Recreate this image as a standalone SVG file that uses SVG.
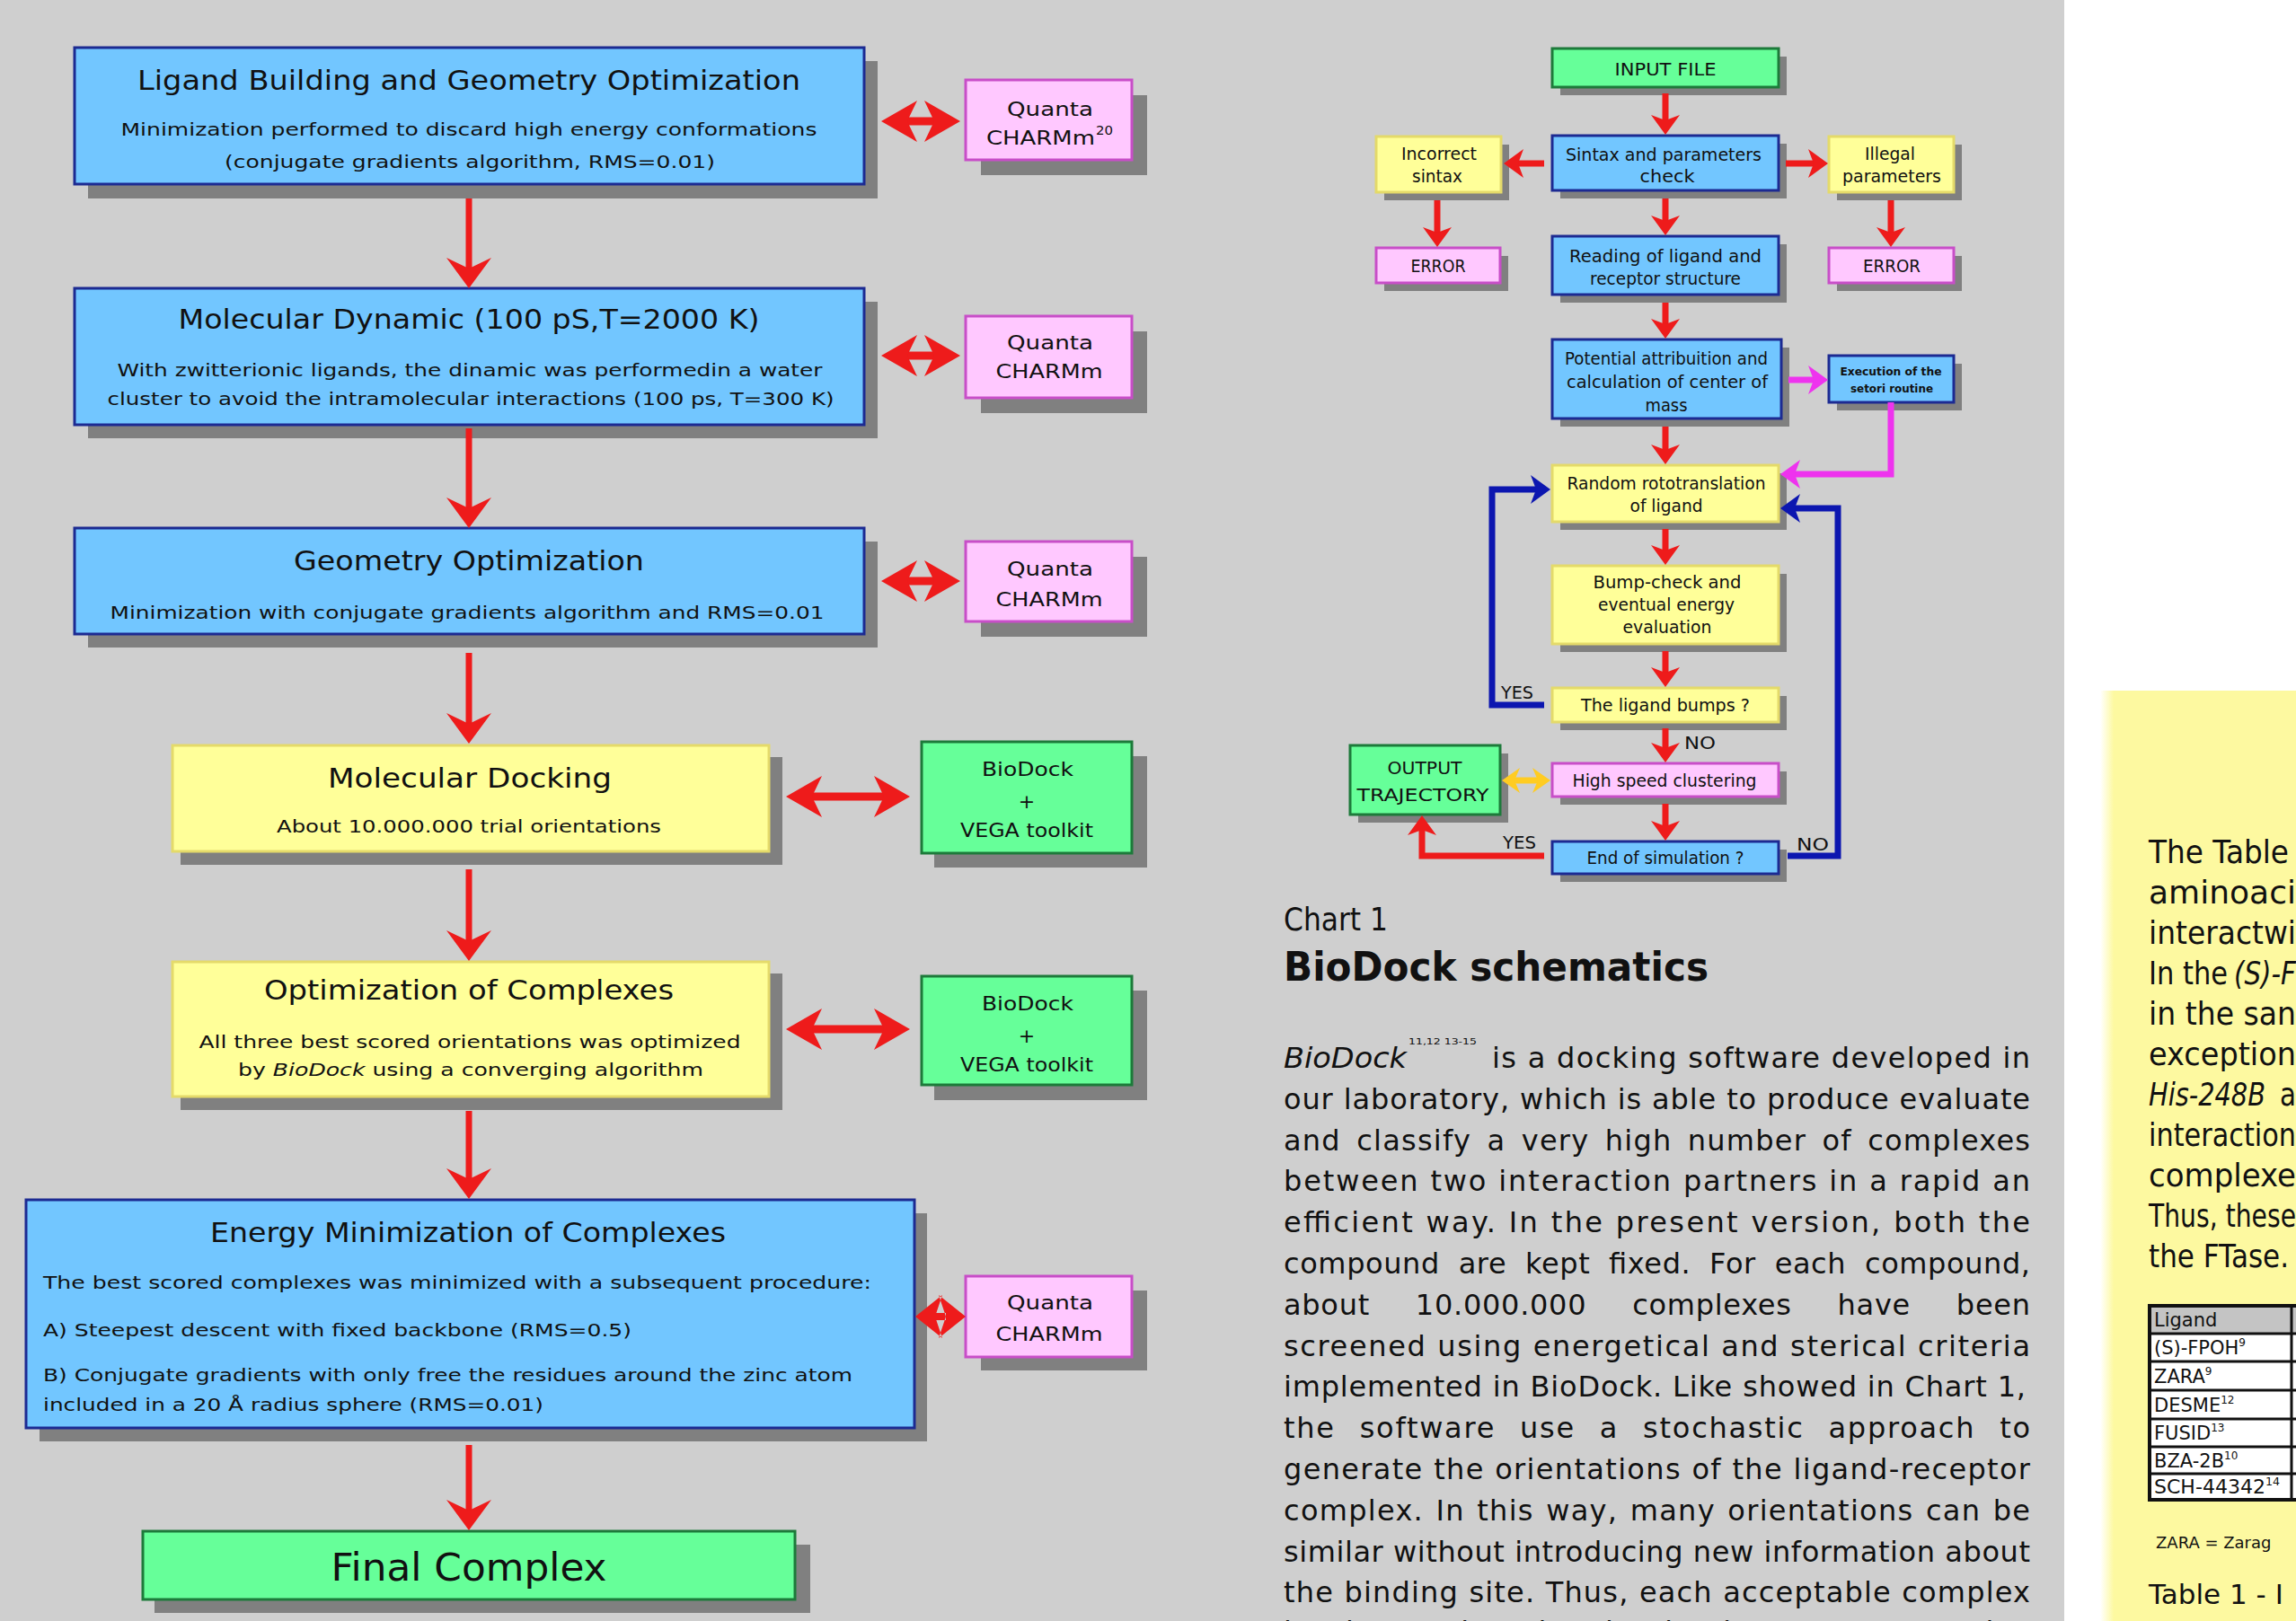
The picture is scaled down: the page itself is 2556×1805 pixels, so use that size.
<svg xmlns="http://www.w3.org/2000/svg" width="2556" height="1805" viewBox="0 0 2556 1805">
<style>
.t{font-family:"DejaVu Sans","Liberation Sans",sans-serif;fill:#111}
.ti{font-size:31px}
.bd{font-size:20px}
.q{font-size:22px}
.s{font-size:20px}
.par{font-size:32px}
.yp{font-size:35px}
.tb{font-size:21px}
.sh{fill:#808080}
.blue{fill:#72c6ff;stroke:#1c2a92;stroke-width:3}
.pink{fill:#ffc8ff;stroke:#c84ec8;stroke-width:3}
.yel{fill:#ffff99;stroke:#e4da6a;stroke-width:3}
.grn{fill:#66ff99;stroke:#1d7a3a;stroke-width:3}
.red{fill:none;stroke:#ee1b1b}
.blu{fill:none;stroke:#0c16b0;stroke-width:7}
.mag{fill:none;stroke:#ee33ee;stroke-width:7}
</style>
<defs>
<marker id="rBig" markerUnits="userSpaceOnUse" orient="auto" overflow="visible" markerWidth="1" markerHeight="1"><path d="M-12,-25 L22,0 L-12,25 L0,0 Z" fill="#ee1b1b"/></marker>
<marker id="rDbl" markerUnits="userSpaceOnUse" orient="auto-start-reverse" overflow="visible" markerWidth="1" markerHeight="1"><path d="M-14,-23 L26,0 L-14,23 L-3,0 Z" fill="#ee1b1b"/></marker>
<marker id="rSm" markerUnits="userSpaceOnUse" orient="auto" overflow="visible" markerWidth="1" markerHeight="1"><path d="M-6,-16 L16,0 L-6,16 L0,0 Z" fill="#ee1b1b"/></marker>
<marker id="bSm" markerUnits="userSpaceOnUse" orient="auto" overflow="visible" markerWidth="1" markerHeight="1"><path d="M-6,-16 L16,0 L-6,16 L0,0 Z" fill="#0c16b0"/></marker>
<marker id="mSm" markerUnits="userSpaceOnUse" orient="auto" overflow="visible" markerWidth="1" markerHeight="1"><path d="M-6,-16 L16,0 L-6,16 L0,0 Z" fill="#ee33ee"/></marker>
<marker id="oSm" markerUnits="userSpaceOnUse" orient="auto-start-reverse" overflow="visible" markerWidth="1" markerHeight="1"><path d="M-6,-14 L14,0 L-6,14 L0,0 Z" fill="#ffcc22"/></marker>
<linearGradient id="yg" x1="0" y1="0" x2="1" y2="0">
<stop offset="0" stop-color="#ffffff"/><stop offset="0.07" stop-color="#fdf9a0"/><stop offset="1" stop-color="#fdf9a0"/>
</linearGradient>
</defs>

<rect x="0" y="0" width="2556" height="1805" fill="#ffffff"/>
<rect x="0" y="0" width="2298" height="1805" fill="#cfcfcf"/>
<rect x="2338" y="769" width="218" height="1036" fill="url(#yg)"/>

<!-- Left column nodes -->
<g id="n-ligand-building">
<rect class="sh" x="98" y="68" width="879" height="153"/>
<rect class="blue" x="83" y="53" width="879" height="152"/>
<text class="t ti" x="522" y="100" text-anchor="middle" textLength="738" lengthAdjust="spacingAndGlyphs">Ligand Building and Geometry Optimization</text>
<text class="t bd" x="522" y="151" text-anchor="middle" textLength="775" lengthAdjust="spacingAndGlyphs">Minimization performed to discard high energy conformations</text>
<text class="t bd" x="523" y="187" text-anchor="middle" textLength="546" lengthAdjust="spacingAndGlyphs">(conjugate gradients algorithm, RMS=0.01)</text>
</g>
<g id="n-quanta1">
<rect class="sh" x="1092" y="106" width="185" height="89"/>
<rect class="pink" x="1075" y="89" width="185" height="89"/>
<text class="t q" x="1169" y="129" text-anchor="middle" textLength="96" lengthAdjust="spacingAndGlyphs">Quanta</text>
<text class="t q" x="1098" y="161" textLength="121" lengthAdjust="spacingAndGlyphs">CHARMm</text>
<text class="t" x="1220" y="150" font-size="14" textLength="19" lengthAdjust="spacingAndGlyphs">20</text>
</g>

<g id="n-moldyn">
<rect class="sh" x="98" y="336" width="879" height="152"/>
<rect class="blue" x="83" y="321" width="879" height="152"/>
<text class="t ti" x="522" y="366" text-anchor="middle" textLength="647" lengthAdjust="spacingAndGlyphs">Molecular Dynamic (100 pS,T=2000 K)</text>
<text class="t bd" x="523" y="419" text-anchor="middle" textLength="785" lengthAdjust="spacingAndGlyphs">With zwitterionic ligands, the dinamic was performedin a water</text>
<text class="t bd" x="524" y="451" text-anchor="middle" textLength="809" lengthAdjust="spacingAndGlyphs">cluster to avoid the intramolecular interactions (100 ps, T=300 K)</text>
</g>
<g id="n-quanta2">
<rect class="sh" x="1092" y="369" width="185" height="91"/>
<rect class="pink" x="1075" y="352" width="185" height="91"/>
<text class="t q" x="1169" y="389" text-anchor="middle" textLength="96" lengthAdjust="spacingAndGlyphs">Quanta</text>
<text class="t q" x="1168" y="421" text-anchor="middle" textLength="119" lengthAdjust="spacingAndGlyphs">CHARMm</text>
</g>

<g id="n-geomopt">
<rect class="sh" x="98" y="603" width="879" height="118"/>
<rect class="blue" x="83" y="588" width="879" height="118"/>
<text class="t ti" x="522" y="635" text-anchor="middle" textLength="390" lengthAdjust="spacingAndGlyphs">Geometry Optimization</text>
<text class="t bd" x="520" y="689" text-anchor="middle" textLength="795" lengthAdjust="spacingAndGlyphs">Minimization with conjugate gradients algorithm and RMS=0.01</text>
</g>
<g id="n-quanta3">
<rect class="sh" x="1092" y="620" width="185" height="89"/>
<rect class="pink" x="1075" y="603" width="185" height="89"/>
<text class="t q" x="1169" y="641" text-anchor="middle" textLength="96" lengthAdjust="spacingAndGlyphs">Quanta</text>
<text class="t q" x="1168" y="675" text-anchor="middle" textLength="119" lengthAdjust="spacingAndGlyphs">CHARMm</text>
</g>

<g id="n-moldock">
<rect class="sh" x="201" y="843" width="670" height="120"/>
<rect class="yel" x="192" y="830" width="664" height="118"/>
<text class="t ti" x="523" y="877" text-anchor="middle" textLength="316" lengthAdjust="spacingAndGlyphs">Molecular Docking</text>
<text class="t bd" x="522" y="927" text-anchor="middle" textLength="428" lengthAdjust="spacingAndGlyphs">About 10.000.000 trial orientations</text>
</g>
<g id="n-biodock1">
<rect class="sh" x="1040" y="842" width="237" height="124"/>
<rect class="grn" x="1026" y="826" width="234" height="124"/>
<text class="t q" x="1144" y="864" text-anchor="middle" textLength="102" lengthAdjust="spacingAndGlyphs">BioDock</text>
<text class="t q" x="1143" y="900" text-anchor="middle">+</text>
<text class="t q" x="1143" y="932" text-anchor="middle" textLength="148" lengthAdjust="spacingAndGlyphs">VEGA toolkit</text>
</g>

<g id="n-optcomplex">
<rect class="sh" x="201" y="1084" width="670" height="152"/>
<rect class="yel" x="192" y="1071" width="664" height="150"/>
<text class="t ti" x="522" y="1113" text-anchor="middle" textLength="456" lengthAdjust="spacingAndGlyphs">Optimization of Complexes</text>
<text class="t bd" x="523" y="1167" text-anchor="middle" textLength="603" lengthAdjust="spacingAndGlyphs">All three best scored orientations was optimized</text>
<text class="t bd" x="524" y="1198" text-anchor="middle" textLength="518" lengthAdjust="spacingAndGlyphs">by <tspan font-style="italic">BioDock</tspan> using a converging algorithm</text>
</g>
<g id="n-biodock2">
<rect class="sh" x="1040" y="1103" width="237" height="122"/>
<rect class="grn" x="1026" y="1087" width="234" height="121"/>
<text class="t q" x="1144" y="1125" text-anchor="middle" textLength="102" lengthAdjust="spacingAndGlyphs">BioDock</text>
<text class="t q" x="1143" y="1161" text-anchor="middle">+</text>
<text class="t q" x="1143" y="1193" text-anchor="middle" textLength="148" lengthAdjust="spacingAndGlyphs">VEGA toolkit</text>
</g>

<g id="n-energymin">
<rect class="sh" x="44" y="1351" width="988" height="254"/>
<rect class="blue" x="29" y="1336" width="989" height="254"/>
<text class="t ti" x="521" y="1383" text-anchor="middle" textLength="574" lengthAdjust="spacingAndGlyphs">Energy Minimization of Complexes</text>
<text class="t bd" x="48" y="1435" textLength="922" lengthAdjust="spacingAndGlyphs">The best scored complexes was minimized with a subsequent procedure:</text>
<text class="t bd" x="48" y="1488" textLength="655" lengthAdjust="spacingAndGlyphs">A) Steepest descent with fixed backbone (RMS=0.5)</text>
<text class="t bd" x="48" y="1538" textLength="901" lengthAdjust="spacingAndGlyphs">B) Conjugate gradients with only free the residues around the zinc atom</text>
<text class="t bd" x="48" y="1571" textLength="557" lengthAdjust="spacingAndGlyphs">included in a 20 Å radius sphere (RMS=0.01)</text>
</g>
<g id="n-quanta4">
<rect class="sh" x="1092" y="1437" width="185" height="89"/>
<rect class="pink" x="1075" y="1421" width="185" height="90"/>
<text class="t q" x="1169" y="1458" text-anchor="middle" textLength="96" lengthAdjust="spacingAndGlyphs">Quanta</text>
<text class="t q" x="1168" y="1493" text-anchor="middle" textLength="119" lengthAdjust="spacingAndGlyphs">CHARMm</text>
</g>

<g id="n-final">
<rect class="sh" x="172" y="1720" width="730" height="76"/>
<rect class="grn" x="159" y="1705" width="726" height="76"/>
<text class="t" x="522" y="1760" font-size="43" text-anchor="middle" textLength="307" lengthAdjust="spacingAndGlyphs">Final Complex</text>
</g>

<!-- Right flowchart nodes -->
<g id="c-input">
<rect class="sh" x="1737" y="63" width="252" height="43"/>
<rect class="grn" x="1728" y="54" width="252" height="43"/>
<text class="t s" x="1854" y="84" text-anchor="middle" textLength="113" lengthAdjust="spacingAndGlyphs">INPUT FILE</text>
</g>
<g id="c-syntax">
<rect class="sh" x="1737" y="160" width="252" height="61"/>
<rect class="blue" x="1728" y="151" width="252" height="61"/>
<text class="t s" x="1852" y="179" text-anchor="middle" textLength="218" lengthAdjust="spacingAndGlyphs">Sintax and parameters</text>
<text class="t s" x="1856" y="203" text-anchor="middle" textLength="61" lengthAdjust="spacingAndGlyphs">check</text>
</g>
<g id="c-incorrect">
<rect class="sh" x="1541" y="161" width="139" height="62"/>
<rect class="yel" x="1532" y="152" width="139" height="62"/>
<text class="t s" x="1602" y="178" text-anchor="middle" textLength="84" lengthAdjust="spacingAndGlyphs">Incorrect</text>
<text class="t s" x="1600" y="203" text-anchor="middle" textLength="56" lengthAdjust="spacingAndGlyphs">sintax</text>
</g>
<g id="c-illegal">
<rect class="sh" x="2045" y="161" width="139" height="62"/>
<rect class="yel" x="2036" y="152" width="139" height="62"/>
<text class="t s" x="2104" y="178" text-anchor="middle" textLength="56" lengthAdjust="spacingAndGlyphs">Illegal</text>
<text class="t s" x="2106" y="203" text-anchor="middle" textLength="110" lengthAdjust="spacingAndGlyphs">parameters</text>
</g>
<g id="c-error1">
<rect class="sh" x="1541" y="285" width="138" height="39"/>
<rect class="pink" x="1532" y="276" width="138" height="39"/>
<text class="t s" x="1601" y="303" text-anchor="middle" textLength="61" lengthAdjust="spacingAndGlyphs">ERROR</text>
</g>
<g id="c-error2">
<rect class="sh" x="2045" y="285" width="139" height="39"/>
<rect class="pink" x="2036" y="276" width="139" height="39"/>
<text class="t s" x="2106" y="303" text-anchor="middle" textLength="64" lengthAdjust="spacingAndGlyphs">ERROR</text>
</g>
<g id="c-reading">
<rect class="sh" x="1737" y="272" width="252" height="65"/>
<rect class="blue" x="1728" y="263" width="252" height="65"/>
<text class="t s" x="1854" y="292" text-anchor="middle" textLength="214" lengthAdjust="spacingAndGlyphs">Reading of ligand and</text>
<text class="t s" x="1854" y="317" text-anchor="middle" textLength="168" lengthAdjust="spacingAndGlyphs">receptor structure</text>
</g>
<g id="c-potential">
<rect class="sh" x="1737" y="387" width="255" height="88"/>
<rect class="blue" x="1728" y="378" width="255" height="88"/>
<text class="t s" x="1855" y="406" text-anchor="middle" textLength="226" lengthAdjust="spacingAndGlyphs">Potential attribuition and</text>
<text class="t s" x="1856" y="432" text-anchor="middle" textLength="224" lengthAdjust="spacingAndGlyphs">calculation of center of</text>
<text class="t s" x="1855" y="458" text-anchor="middle" textLength="47" lengthAdjust="spacingAndGlyphs">mass</text>
</g>
<g id="c-execution">
<rect class="sh" x="2045" y="405" width="139" height="52"/>
<rect class="blue" x="2036" y="396" width="139" height="52"/>
<text class="t" x="2105" y="418" font-size="13" font-weight="bold" text-anchor="middle" textLength="113" lengthAdjust="spacingAndGlyphs">Execution of the</text>
<text class="t" x="2106" y="437" font-size="13" font-weight="bold" text-anchor="middle" textLength="92" lengthAdjust="spacingAndGlyphs">setori routine</text>
</g>
<g id="c-random">
<rect class="sh" x="1737" y="527" width="252" height="63"/>
<rect class="yel" x="1728" y="518" width="252" height="63"/>
<text class="t s" x="1855" y="545" text-anchor="middle" textLength="221" lengthAdjust="spacingAndGlyphs">Random rototranslation</text>
<text class="t s" x="1855" y="570" text-anchor="middle" textLength="81" lengthAdjust="spacingAndGlyphs">of ligand</text>
</g>
<g id="c-bump">
<rect class="sh" x="1737" y="639" width="252" height="87"/>
<rect class="yel" x="1728" y="630" width="252" height="87"/>
<text class="t s" x="1856" y="655" text-anchor="middle" textLength="165" lengthAdjust="spacingAndGlyphs">Bump-check and</text>
<text class="t s" x="1855" y="680" text-anchor="middle" textLength="152" lengthAdjust="spacingAndGlyphs">eventual energy</text>
<text class="t s" x="1856" y="705" text-anchor="middle" textLength="99" lengthAdjust="spacingAndGlyphs">evaluation</text>
</g>
<g id="c-bumps">
<rect class="sh" x="1737" y="775" width="252" height="38"/>
<rect class="yel" x="1728" y="766" width="252" height="38"/>
<text class="t s" x="1854" y="792" text-anchor="middle" textLength="188" lengthAdjust="spacingAndGlyphs">The ligand bumps ?</text>
</g>
<g id="c-cluster">
<rect class="sh" x="1737" y="859" width="252" height="37"/>
<rect class="pink" x="1728" y="850" width="252" height="37"/>
<text class="t s" x="1853" y="876" text-anchor="middle" textLength="205" lengthAdjust="spacingAndGlyphs">High speed clustering</text>
</g>
<g id="c-output">
<rect class="sh" x="1512" y="839" width="167" height="77"/>
<rect class="grn" x="1503" y="830" width="167" height="77"/>
<text class="t s" x="1586" y="862" text-anchor="middle" textLength="83" lengthAdjust="spacingAndGlyphs">OUTPUT</text>
<text class="t s" x="1584" y="892" text-anchor="middle" textLength="147" lengthAdjust="spacingAndGlyphs">TRAJECTORY</text>
</g>
<g id="c-end">
<rect class="sh" x="1737" y="946" width="252" height="36"/>
<rect class="blue" x="1728" y="937" width="252" height="36"/>
<text class="t s" x="1854" y="962" text-anchor="middle" textLength="175" lengthAdjust="spacingAndGlyphs">End of simulation ?</text>
</g>

<!-- Connectors -->
<g id="connectors">
<g stroke-width="7">
<path class="red" d="M522,221 V299" marker-end="url(#rBig)"/>
<path class="red" d="M522,477 V566" marker-end="url(#rBig)"/>
<path class="red" d="M522,727 V806" marker-end="url(#rBig)"/>
<path class="red" d="M522,968 V1048" marker-end="url(#rBig)"/>
<path class="red" d="M522,1237 V1313" marker-end="url(#rBig)"/>
<path class="red" d="M522,1609 V1682" marker-end="url(#rBig)"/>
</g>
<g stroke-width="9">
<path class="red" d="M1007,135 H1043" marker-start="url(#rDbl)" marker-end="url(#rDbl)"/>
<path class="red" d="M1007,396 H1043" marker-start="url(#rDbl)" marker-end="url(#rDbl)"/>
<path class="red" d="M1007,647 H1043" marker-start="url(#rDbl)" marker-end="url(#rDbl)"/>
<path class="red" d="M901,887 H987" marker-start="url(#rDbl)" marker-end="url(#rDbl)"/>
<path class="red" d="M901,1146 H987" marker-start="url(#rDbl)" marker-end="url(#rDbl)"/>
</g>
<path d="M1019,1466 L1049,1442 L1041,1466 L1049,1490 Z M1075,1466 L1045,1442 L1053,1466 L1045,1490 Z M1041,1462 H1053 V1470 H1041 Z" fill="#ee1b1b"/>

<g stroke-width="7">
<path class="red" d="M1854,104 V134" marker-end="url(#rSm)"/>
<path class="red" d="M1854,221 V246" marker-end="url(#rSm)"/>
<path class="red" d="M1854,337 V361" marker-end="url(#rSm)"/>
<path class="red" d="M1854,475 V501" marker-end="url(#rSm)"/>
<path class="red" d="M1854,589 V613" marker-end="url(#rSm)"/>
<path class="red" d="M1854,725 V749" marker-end="url(#rSm)"/>
<path class="red" d="M1854,811 V833" marker-end="url(#rSm)"/>
<path class="red" d="M1854,895 V920" marker-end="url(#rSm)"/>
<path class="red" d="M1719,182 H1690" marker-end="url(#rSm)"/>
<path class="red" d="M1988,182 H2019" marker-end="url(#rSm)"/>
<path class="red" d="M1600,223 V259" marker-end="url(#rSm)"/>
<path class="red" d="M2105,223 V259" marker-end="url(#rSm)"/>
<path class="red" d="M1719,953 H1583 V924" marker-end="url(#rSm)"/>
<path class="mag" d="M1991,423 H2019" marker-end="url(#mSm)"/>
<path class="mag" d="M2105,448 V528 H1998" marker-end="url(#mSm)"/>
<path class="blu" d="M1719,785 H1661 V545 H1710" marker-end="url(#bSm)"/>
<path class="blu" d="M1990,953 H2046 V566 H1998" marker-end="url(#bSm)"/>
</g>
<path d="M1686,869 H1712" fill="none" stroke="#ffcc22" stroke-width="7" marker-start="url(#oSm)" marker-end="url(#oSm)"/>
<text class="t" x="1671" y="778" font-size="19" textLength="36" lengthAdjust="spacingAndGlyphs">YES</text>
<text class="t" x="1875" y="834" font-size="19" textLength="35" lengthAdjust="spacingAndGlyphs">NO</text>
<text class="t" x="1673" y="945" font-size="19" textLength="37" lengthAdjust="spacingAndGlyphs">YES</text>
<text class="t" x="2000" y="947" font-size="19" textLength="36" lengthAdjust="spacingAndGlyphs">NO</text>
</g>

<!-- Caption and paragraph -->
<text class="t" x="1429" y="1036" font-size="35" fill="#222" textLength="116" lengthAdjust="spacingAndGlyphs">Chart 1</text>
<text class="t" x="1429" y="1092" font-size="45" font-weight="bold" textLength="473" lengthAdjust="spacingAndGlyphs">BioDock schematics</text>

<g class="t par">
<text x="1429" y="1189" font-style="italic" textLength="137" lengthAdjust="spacingAndGlyphs">BioDock</text>
<text x="1568" y="1163" font-size="9" textLength="76" lengthAdjust="spacingAndGlyphs">11,12 13-15</text>
<text x="1661" y="1189" textLength="599" lengthAdjust="spacing">is a docking software developed in</text>
<text x="1429" y="1235" textLength="831" lengthAdjust="spacing">our laboratory, which is able to produce evaluate</text>
<text x="1429" y="1281" textLength="831" lengthAdjust="spacing" word-spacing="6">and classify a very high number of complexes</text>
<text x="1429" y="1326" textLength="831" lengthAdjust="spacing">between two interaction partners in a rapid an</text>
<text x="1429" y="1372" textLength="831" lengthAdjust="spacing">efficient way. In the present version, both the</text>
<text x="1429" y="1418" textLength="831" lengthAdjust="spacing" word-spacing="10">compound are kept fixed. For each compound,</text>
<text x="1429" y="1464" textLength="831" lengthAdjust="spacing" word-spacing="40">about 10.000.000 complexes have been</text>
<text x="1429" y="1510" textLength="831" lengthAdjust="spacing">screened using energetical and sterical criteria</text>
<text x="1429" y="1555" textLength="826" lengthAdjust="spacing">implemented in BioDock. Like showed in Chart 1,</text>
<text x="1429" y="1601" textLength="831" lengthAdjust="spacing" word-spacing="15">the software use a stochastic approach to</text>
<text x="1429" y="1647" textLength="831" lengthAdjust="spacing">generate the orientations of the ligand-receptor</text>
<text x="1429" y="1693" textLength="831" lengthAdjust="spacing" word-spacing="2">complex. In this way, many orientations can be</text>
<text x="1429" y="1739" textLength="831" lengthAdjust="spacing">similar without introducing new information about</text>
<text x="1429" y="1784" textLength="831" lengthAdjust="spacing">the binding site. Thus, each acceptable complex</text>
<text x="1429" y="1828" textLength="831" lengthAdjust="spacing" word-spacing="12">is clustered and only the best representative</text>
</g>

<!-- Yellow side panel -->
<g class="t yp">
<text x="2392" y="961" textLength="156" lengthAdjust="spacingAndGlyphs">The Table</text>
<text x="2392" y="1006" textLength="164" lengthAdjust="spacingAndGlyphs">aminoaci</text>
<text x="2392" y="1051" textLength="164" lengthAdjust="spacingAndGlyphs">interactwi</text>
<text x="2392" y="1096" textLength="88" lengthAdjust="spacingAndGlyphs">In the</text>
<text x="2487" y="1096" font-style="italic" textLength="69" lengthAdjust="spacingAndGlyphs">(S)-F</text>
<text x="2392" y="1141" textLength="164" lengthAdjust="spacingAndGlyphs">in the san</text>
<text x="2392" y="1186" textLength="164" lengthAdjust="spacingAndGlyphs">exception</text>
<text x="2392" y="1231" font-style="italic" textLength="130" lengthAdjust="spacingAndGlyphs">His-248B</text>
<text x="2538" y="1231" textLength="18" lengthAdjust="spacingAndGlyphs">a</text>
<text x="2392" y="1276" textLength="164" lengthAdjust="spacingAndGlyphs">interaction</text>
<text x="2392" y="1321" textLength="164" lengthAdjust="spacingAndGlyphs">complexe</text>
<text x="2392" y="1366" textLength="164" lengthAdjust="spacingAndGlyphs">Thus, these</text>
<text x="2392" y="1411" textLength="156" lengthAdjust="spacingAndGlyphs">the FTase.</text>
</g>
<g id="table1">
<rect x="2392" y="1453" width="170" height="32" fill="#c4c4c4"/>
<rect x="2392" y="1485" width="170" height="185" fill="#ffffff"/>
<g stroke="#111" stroke-width="3" fill="none">
<rect x="2393" y="1454" width="170" height="216" stroke-width="4"/>
<path d="M2393,1485 H2560 M2393,1516 H2560 M2393,1548 H2560 M2393,1580 H2560 M2393,1611 H2560 M2393,1641 H2560 M2551,1454 V1670"/>
</g>
<g class="t tb">
<text x="2398" y="1477">Ligand</text>
<text x="2398" y="1508">(S)-FPOH<tspan font-size="12" dy="-9">9</tspan></text>
<text x="2398" y="1540">ZARA<tspan font-size="12" dy="-9">9</tspan></text>
<text x="2398" y="1572">DESME<tspan font-size="12" dy="-9">12</tspan></text>
<text x="2398" y="1603">FUSID<tspan font-size="12" dy="-9">13</tspan></text>
<text x="2398" y="1634">BZA-2B<tspan font-size="12" dy="-9">10</tspan></text>
<text x="2398" y="1663" textLength="140" lengthAdjust="spacingAndGlyphs">SCH-44342<tspan font-size="12" dy="-9">14</tspan></text>
</g>
</g>
<text class="t" x="2400" y="1724" font-size="18">ZARA = Zarag</text>
<text class="t" x="2392" y="1786" font-size="31">Table 1 - I</text>
</svg>
